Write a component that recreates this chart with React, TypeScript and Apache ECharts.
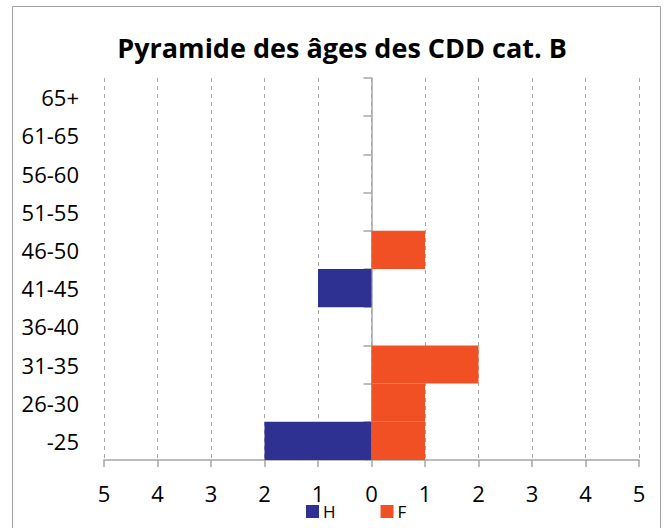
import React, { useEffect, useRef } from "react";
import * as echarts from "echarts";

const titleText = "Pyramide des âges des CDD cat. B";
const ageGroups = ["-25", "26-30", "31-35", "36-40", "41-45", "46-50", "51-55", "56-60", "61-65", "65+"];
const hommes = [-2, 0, 0, 0, -1, 0, 0, 0, 0, 0];
const femmes = [1, 1, 2, 0, 0, 1, 0, 0, 0, 0];
const seriesNames = ["H", "F"];
const colors = ["#2E3192", "#F15025"];

const FONT = "'Open Sans', 'Noto Sans', sans-serif";

export default function App() {
  const ref = useRef<HTMLDivElement>(null);
  useEffect(() => {
    if (!ref.current) return;
    const chart = echarts.init(ref.current, null, { renderer: "svg" });
    chart.setOption({
      animation: false,
      backgroundColor: "#ffffff",
      textStyle: { fontFamily: FONT },
      graphic: [
        {
          type: "rect",
          shape: { x: 12.5, y: 6.5, width: 648, height: 540 },
          style: { fill: "none", stroke: "#a0a0a0", lineWidth: 1 },
          silent: true,
        },
        {
          type: "text",
          x: 342,
          y: 47,
          style: {
            text: titleText,
            textAlign: "center",
            textVerticalAlign: "middle",
            fontFamily: FONT,
            fontWeight: "bold",
            fontSize: 27,
            fill: "#000000",
          },
        },
      ],
      legend: {
        data: seriesNames,
        left: 306,
        top: 503,
        itemWidth: 13,
        itemHeight: 13,
        itemGap: 45,
        padding: 0,
        icon: "rect",
        textStyle: { fontSize: 17, color: "#000000", fontFamily: FONT, padding: [0, 0, 0, -1] },
      },
      grid: { left: 104, right: 28, top: 78, bottom: 68, outerBoundsMode: "none", containLabel: false },
      xAxis: {
        type: "value",
        min: -5,
        max: 5,
        interval: 1,
        axisLine: { show: true, lineStyle: { color: "#a6a6a6", width: 1.5 } },
        axisTick: { show: true, length: 7, lineStyle: { color: "#a6a6a6", width: 1.5 } },
        axisLabel: {
          formatter: (v: number) => String(Math.abs(v)),
          fontSize: 22,
          color: "#000000",
          margin: 22,
          fontFamily: FONT,
        },
        splitLine: { show: true, lineStyle: { color: "#a6a6a6", type: [4, 4], width: 1 } },
      },
      yAxis: {
        type: "category",
        data: ageGroups,
        axisLine: { show: true, onZero: true, lineStyle: { color: "#a6a6a6", width: 1.5 } },
        axisTick: { show: true, length: 8, lineStyle: { color: "#a6a6a6", width: 1.5 } },
        axisLabel: { fontSize: 22, color: "#000000", margin: 25, fontFamily: FONT },
        splitLine: { show: false },
      },
      series: [
        {
          name: seriesNames[0],
          type: "bar",
          stack: "total",
          data: hommes,
          barCategoryGap: "0%",
          itemStyle: { color: colors[0] },
        },
        {
          name: seriesNames[1],
          type: "bar",
          stack: "total",
          data: femmes,
          barCategoryGap: "0%",
          itemStyle: { color: colors[1] },
        },
      ],
    });
    return () => chart.dispose();
  }, []);
  return (
    <div
      ref={ref}
      style={{ position: "fixed", left: 0, top: 0, width: 667, height: 528 }}
    />
  );
}
